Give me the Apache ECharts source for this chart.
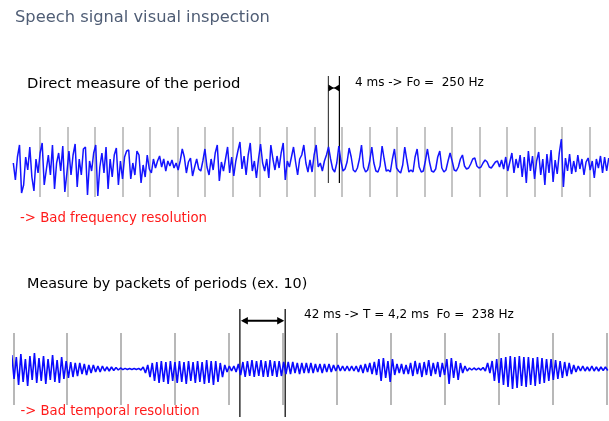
<!DOCTYPE html>
<html><head><meta charset="utf-8">
<script src="https://cdn.jsdelivr.net/npm/echarts@6.0.0/dist/echarts.min.js"></script>
<style>html,body{margin:0;padding:0;background:#fff}#c{width:609px;height:421px}</style>
</head><body><div id="c"></div>
<script>
// ---- Top signal (direct measure), sampled every 0.75 ms, amplitude (arbitrary units, + up)
const topStartMs = 0.3, topStepMs = 0.75;
const topSegA = [2,-15,8,20,-28,-20,8,-5,18,-12,
  -26,6,-8,12,22,-20,-5,10,-10,20,
  -24,2,12,-6,19,-27,-8,14,-10,10,
  21,-22,6,-10,16,18,-30,4,-6,12,
  20,-31,-2,12,-8,18,-24,6,-12,10,
  17,-20,4,-14,8,14,15,-14,2,-10,
  14,10,-18,0,-12,10,-4];
const topSegB = [-8,6,-3,4,9,-2,6,-6,4,-1,5,-3,2,-5,4,16,8,-8,3,7,-11,-2,6,-4];
const topSegC = [-6,4,16,-2,-10,6,-5,12,20,-16,
  3,-6,6,18,-8,8,-11,4,14,23,
  -4,9,-10,10,22,-6,4,-13,6,21,
  2,-6,6,-13,20,6,-5,9,-3,12,
  22,-15,4,-2,8,18,3,-10,6,10,
  20,2,-7,5,-7,10,20,-2,2,-6,
  4,10,18];
const topSegD = [6,-4,-7,2,19,4,-6,-4,3,17,
  8,-5,-7,-3,6,20,-2,-7,-5,4,
  18,2,-6,-7,-1,19,6,-6,-5,-7,
  6,16,-3,-6,-8,0,18,5,-7,-5,
  -7,8,16,-2,-7,-6,4,16,3,-6,
  -7,-4,8,14,-3,-7,-5,4,12,4,
  -5,-6,-2,6,10,-1,-4,-3,1,6,
  7,-1,-3];
const topSegE = [-2,2,5,3,-2,-3,0,3,4,-2];
const topSegF = [5,-4,8,-6,3,12,-8,6,-3,10,
  -12,8,-18,14,-6,9,-14,4,13,-10,
  6,-20,11,-8,15,-17,5,-9,12,26,
  -22,7,-6,11,-9,4,-7,10,-4,6,
  -10,3,7,-5,4,-13,6,-3,9,-8,
  8,-6,7];

// ---- Bottom signal (packets of periods), sampled every 2.1 ms
const botStartMs = -5.6, botStepMs = 2.1;
const botSegA = [8,-12,14,-10,12,-16,15,-13,10,-17,
  13,-11,16,-14,11,-12,13,-15,10,-11,
  14,-13,9,-14,12,-10,8,-9,7,-8,
  6,-7,6,-5,5,-6,4,-4,4,-3,
  3,-3,3,-2,2,-2,2,-1.5,1.5,-1,
  1,-0.6,0.6,-0.5,0.5,-0.4,0.5,-0.5,0.6,-1,
  2,-4,4,-8];
const botSegB = [6,-12,7,-14,8,-13,7,-15,8,-12,
  7,-14,8,-13,7,-15,8,-12,7,-14,
  8,-13,7,-15,9,-14,8,-16,8,-13,
  6,-8,4,-3,3,-2,3,-3,5,-6,
  7,-8,8,-7,9,-8,8,-7,9,-8,
  8,-8,9,-7,8,-8,8,-7];
const botSegC = [7,-5,7,-5,7,-4,6,-5,6,-4,
  6,-4,6,-4,5,-3,5,-4,5,-3,
  5,-3,4,-2,4,-2,3,-2,3,-2,
  3,-2,3,-3,4,-4,5,-3,6,-5,
  7,-6];
const botSegD = [10,-12,11,-9,8,-13,10,-6,5,-4,
  5,-5,4,-5,6,-7,8,-5,6,-8,
  7,-6,9,-7,6,-5,7,-8,6,-6,
  10,-15,11,-9,8,-11,6,-4,3,-2,
  1,-1,1,-0.8,0.8,-1,1.5,-2,6,-4];
const botSegE = [8,-12,10,-14,11,-16,12,-18,13,-20,
  12,-19,13,-17,12,-18,12,-16,11,-17,
  12,-15,11,-14,10,-12,10,-11,9,-10,
  8,-9,7,-7,6,-5,4,-3,3,-2,
  3,-2,2,-2,3,-2,2,-2,2,-1.5,
  2,-1.5];

// ---- Measurements
const topMarkerMs = [115, 119];   // 4 ms
const botMarkerMs = [210, 252];   // 42 ms (10 periods)

// ---- Texts
const titleText = 'Speech signal visual inspection';
const topHeading = 'Direct measure of the period';
const topNote = '4 ms -> Fo =  250 Hz';
const topRemark = '-> Bad frequency resolution';
const botHeading = 'Measure by packets of periods (ex. 10)';
const botNote = '42 ms -> T = 4,2 ms  Fo =  238 Hz';
const botRemark = '-> Bad temporal resolution';

const topWave = [].concat(topSegA, topSegB, topSegC, topSegD, topSegE, topSegF)
  .map((v, i) => [topStartMs + i * topStepMs, v]);
const botWave = [].concat(botSegA, botSegB, botSegC, botSegD, botSegE)
  .map((v, i) => [botStartMs + i * botStepMs, v]);

const chart = echarts.init(document.getElementById('c'), null, {renderer: 'canvas'});
const hiddenAxisParts = {axisLine: {show: false}, axisTick: {show: false}, axisLabel: {show: false}};
chart.setOption({
  animation: false,
  grid: [
    {left: 12.5, top: 127, width: 596.5, height: 70},
    {left: 13.3, top: 333, width: 595.7, height: 72}
  ],
  xAxis: [
    Object.assign({type: 'value', gridIndex: 0, min: 0, max: 217.15, interval: 10,
      splitLine: {show: true, showMinLine: false, showMaxLine: false, lineStyle: {color: '#c4c4c4', width: 2}}}, hiddenAxisParts),
    Object.assign({type: 'value', gridIndex: 1, min: 0, max: 552.1, interval: 50,
      splitLine: {show: true, showMinLine: true, showMaxLine: false, lineStyle: {color: '#b8b8b8', width: 2}}}, hiddenAxisParts)
  ],
  yAxis: [
    {type: 'value', gridIndex: 0, min: -32, max: 38, show: false},
    {type: 'value', gridIndex: 1, min: -36, max: 36, show: false}
  ],
  series: [
    {type: 'line', xAxisIndex: 0, yAxisIndex: 0, data: topWave, symbol: 'none', clip: false,
      lineStyle: {color: '#1414ff', width: 1.5}},
    {type: 'line', xAxisIndex: 1, yAxisIndex: 1, data: botWave, symbol: 'none', clip: false,
      lineStyle: {color: '#0a0aff', width: 1.6}}
  ]
});

const px = (g, t, v) => chart.convertToPixel({xAxisIndex: g, yAxisIndex: g}, [t, v]);
const font = (s) => s + 'px "DejaVu Sans", Verdana, sans-serif';
function txt(text, x, y, size, fill) {
  return {type: 'text', silent: true, style: {text: text, x: x, y: y, font: font(size), fill: fill,
    textAlign: 'left', textVerticalAlign: 'middle', verticalAlign: 'middle'}};
}
const els = [];
// top markers
topMarkerMs.forEach((t, k) => {
  const a = px(0, t, 89), b = px(0, t, -18);
  els.push({type: 'line', silent: true, shape: {x1: a[0], y1: a[1], x2: b[0], y2: b[1]},
    style: {stroke: k === 0 ? '#444' : '#000', lineWidth: 1.2}});
});
(function () {
  const a = px(0, topMarkerMs[0], 77), b = px(0, topMarkerMs[1], 77);
  const m = (a[0] + b[0]) / 2, y = a[1];
  els.push({type: 'line', silent: true, shape: {x1: a[0], y1: y, x2: b[0], y2: y}, style: {stroke: '#000', lineWidth: 1}});
  els.push({type: 'polygon', silent: true, shape: {points: [[a[0], y - 3.5], [a[0], y + 3.5], [m, y]]}, style: {fill: '#000'}});
  els.push({type: 'polygon', silent: true, shape: {points: [[b[0], y - 3.5], [b[0], y + 3.5], [m, y]]}, style: {fill: '#000'}});
})();
// bottom markers
botMarkerMs.forEach((t) => {
  const a = px(1, t, 60), b = px(1, t, -48);
  els.push({type: 'line', silent: true, shape: {x1: a[0], y1: a[1], x2: b[0], y2: b[1]},
    style: {stroke: '#111', lineWidth: 1.3}});
});
(function () {
  const a = px(1, botMarkerMs[0], 48.3), b = px(1, botMarkerMs[1], 48.3);
  const y = a[1];
  els.push({type: 'line', silent: true, shape: {x1: a[0] + 3, y1: y, x2: b[0] - 3, y2: y}, style: {stroke: '#000', lineWidth: 2}});
  els.push({type: 'polygon', silent: true, shape: {points: [[a[0] + 1, y], [a[0] + 8, y - 3.8], [a[0] + 8, y + 3.8]]}, style: {fill: '#000'}});
  els.push({type: 'polygon', silent: true, shape: {points: [[b[0] - 1, y], [b[0] - 8, y - 3.8], [b[0] - 8, y + 3.8]]}, style: {fill: '#000'}});
})();
els.push(txt(titleText, 15, 18, 16.3, '#4f5d75'));
els.push(txt(topHeading, 27, 84, 14.8, '#000'));
els.push(txt(topNote, 355, 83, 12, '#000'));
els.push(txt(topRemark, 20, 219, 13.3, '#ff1a1a'));
els.push(txt(botHeading, 27, 284, 14.4, '#000'));
els.push(txt(botNote, 304, 315, 12, '#000'));
els.push(txt(botRemark, 20.5, 412, 13.2, '#ff1a1a'));
chart.setOption({graphic: {elements: els}});
</script>
</body></html>
